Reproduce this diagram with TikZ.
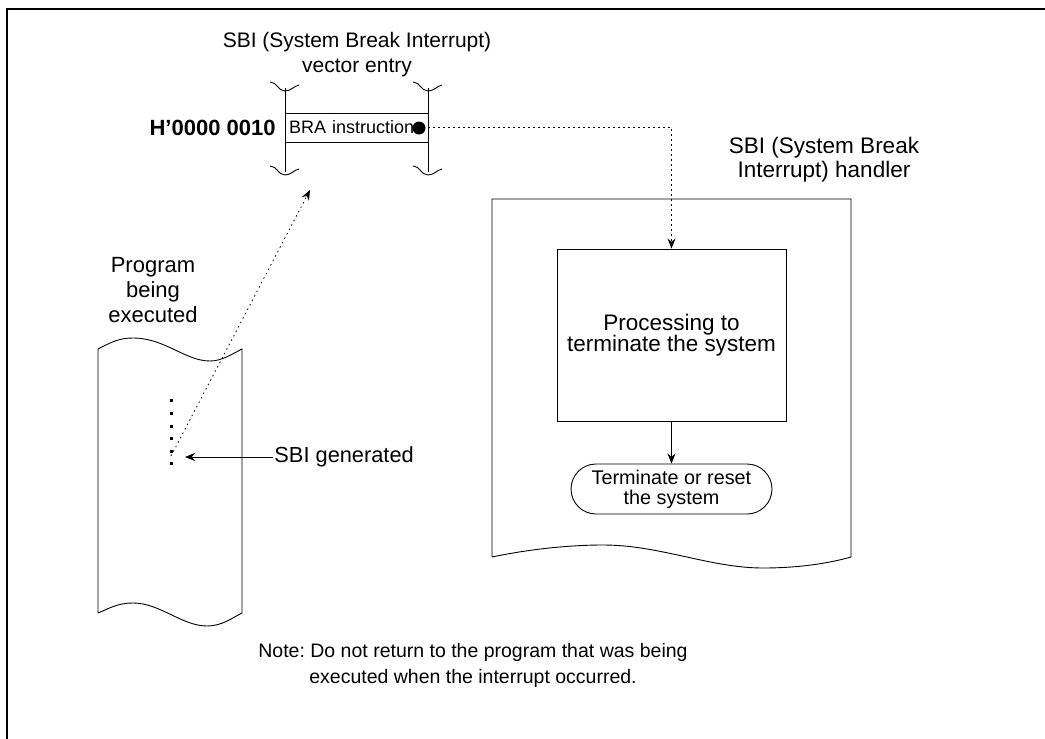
\documentclass[tikz,border=0pt]{standalone}
\usepackage{fontspec}
\setmainfont{Liberation Sans}
\usetikzlibrary{arrows.meta}
\frenchspacing

% break mark across a vertical line
\newcommand{\brkmark}[2]{%
  \draw (#1-15,#2-6) .. controls (#1-8,#2-6) and (#1-7,#2+3) .. (#1,#2+3)
        .. controls (#1+6,#2+3) and (#1+9,#2-2) .. (#1+14,#2-3);}

\tikzset{
  txt/.style={font=\fontsize{21}{25}\selectfont, align=center, inner sep=0},
  bigtxt/.style={font=\fontsize{22.5}{21}\selectfont, align=center, inner sep=0},
  smalltxt/.style={font=\fontsize{18}{21}\selectfont, align=center},
  dotline/.style={dash pattern=on 1.5pt off 3.5pt},
  tip/.style={-{Stealth[length=10pt,width=8pt]}},
}

\begin{document}
\begin{tikzpicture}[x=1pt,y=-1pt,line width=0.9pt]
\useasboundingbox (0,0) rectangle (1045,739);
% frame
\draw[line width=1.6pt] (7,739) -- (7,9) -- (1045,9);

% vector entry
\node[txt] (vectitle) at (357,55) {SBI (System Break Interrupt)\\vector entry};
\draw (285,88) -- (285,172);
\draw (428,88) -- (428,172);
\brkmark{285}{88}
\brkmark{428}{88}
\brkmark{285}{172}
\brkmark{428}{172}
\node[draw, fill=white, smalltxt, align=left, text width=135, minimum height=29, inner sep=4] (bra) at (356.5,127.5) {BRA instruction};
\fill (419,128) circle (6.5);
\node[txt, font=\fontsize{22}{25}\selectfont\bfseries, anchor=east] (addr) at (276,128) {H’0000 0010};

% handler
\node[txt, font=\fontsize{22.5}{24}\selectfont] (hndtitle) at (824,160) {SBI (System Break\\Interrupt) handler};
\draw (492,557) -- (492,199) -- (851,199) -- (851,557)
  .. controls (830,563) and (800,568) .. (763,568)
  .. controls (710,568) and (660,545) .. (603,545)
  .. controls (570,545) and (530,549) .. (492,557);
\node[draw, bigtxt, minimum width=229, minimum height=172] (proc) at (671.5,335) {Processing to\\terminate the system};
\node[draw, font=\fontsize{19.8}{20}\selectfont, align=center, minimum width=201, minimum height=50, inner sep=0, rounded corners=25] (term) at (671.5,489) {Terminate or reset\\the system};
\draw[tip] (proc) -- (term);
\draw[dotline, tip] (bra.east) -| (proc.north);

% program
\node[txt, font=\fontsize{22}{25}\selectfont] (progtitle) at (153,290) {Program\\being\\executed};
\draw (98,613) -- (98,349)
  .. controls (110,343) and (118,338) .. (133,338)
  .. controls (165,338) and (185,361) .. (210,361)
  .. controls (222,361) and (232,354) .. (242,349)
  -- (242,613)
  .. controls (232,618) and (222,626) .. (207,626)
  .. controls (182,626) and (160,603) .. (133,603)
  .. controls (118,603) and (110,608) .. (98,613);
\foreach \y in {400,413,426,438,451,463}
  \fill (169.5,\y-1.5) rectangle ++(3,3);
\node[txt, font=\fontsize{21.8}{25}\selectfont, anchor=west, inner sep=1] (sbigen) at (273,457) {SBI generated};
\coordinate (sbitip) at (185,457);
\draw[tip] (sbigen.west) -- (sbitip);
\coordinate (sbistart) at (171,456);
\coordinate (vecpt) at (310,190);
\draw[dotline, tip, line width=0.8pt] (sbistart) -- (vecpt);

% note
\node[txt, font=\fontsize{19.5}{26}\selectfont] (note) at (473,665) {Note: Do not return to the program that was being\\executed when the interrupt occurred.};
\end{tikzpicture}
\end{document}
